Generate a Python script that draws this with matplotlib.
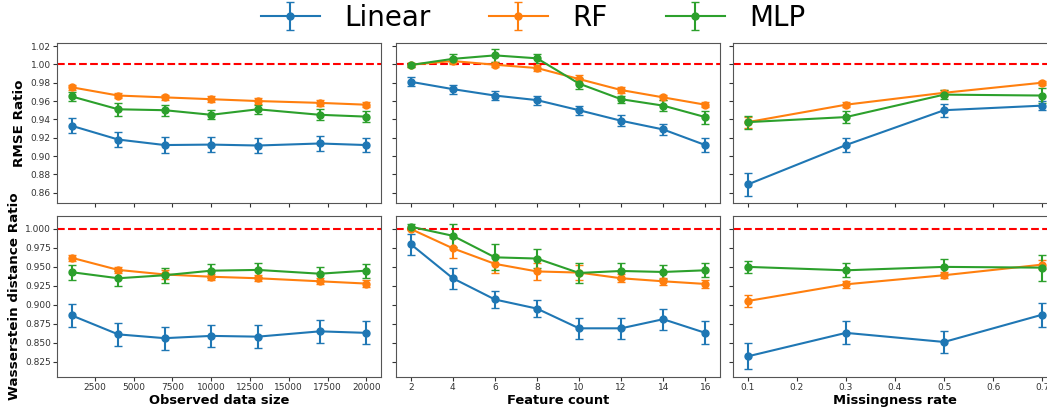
import numpy as np
import matplotlib
matplotlib.use("Agg")
import matplotlib.pyplot as plt

models = ["Linear", "RF", "MLP"]
colors = ["#1f77b4", "#ff7f0e", "#2ca02c"]

# observed data size
size_x = [1000, 4000, 7000, 10000, 13000, 17000, 20000]
size_rmse = {
    "Linear": [0.933, 0.918, 0.912, 0.9125, 0.9115, 0.9137, 0.912],
    "RF": [0.975, 0.966, 0.964, 0.962, 0.960, 0.958, 0.956],
    "MLP": [0.965, 0.951, 0.950, 0.945, 0.951, 0.945, 0.943],
}
size_rmse_err = {
    "Linear": [0.008, 0.008, 0.0085, 0.0085, 0.008, 0.008, 0.008],
    "RF": [0.003, 0.003, 0.003, 0.003, 0.003, 0.003, 0.003],
    "MLP": [0.005, 0.007, 0.006, 0.005, 0.005, 0.006, 0.006],
}
size_wd = {
    "Linear": [0.886, 0.861, 0.856, 0.859, 0.858, 0.865, 0.863],
    "RF": [0.962, 0.946, 0.940, 0.937, 0.935, 0.931, 0.928],
    "MLP": [0.943, 0.935, 0.939, 0.945, 0.946, 0.941, 0.945],
}
size_wd_err = {
    "Linear": [0.015, 0.015, 0.015, 0.015, 0.015, 0.015, 0.015],
    "RF": [0.004, 0.004, 0.006, 0.004, 0.004, 0.004, 0.005],
    "MLP": [0.01, 0.01, 0.01, 0.009, 0.009, 0.009, 0.009],
}

# feature count
feat_x = [2, 4, 6, 8, 10, 12, 14, 16]
feat_rmse = {
    "Linear": [0.981, 0.973, 0.966, 0.961, 0.950, 0.9385, 0.929, 0.912],
    "RF": [0.9996, 1.0036, 0.9996, 0.996, 0.984, 0.972, 0.964, 0.956],
    "MLP": [0.9993, 1.006, 1.0098, 1.0066, 0.979, 0.962, 0.955, 0.9425],
}
feat_rmse_err = {
    "Linear": [0.005, 0.005, 0.005, 0.005, 0.005, 0.006, 0.006, 0.008],
    "RF": [0.002, 0.003, 0.003, 0.003, 0.004, 0.003, 0.003, 0.003],
    "MLP": [0.002, 0.005, 0.007, 0.005, 0.006, 0.004, 0.006, 0.007],
}
feat_wd = {
    "Linear": [0.980, 0.935, 0.907, 0.895, 0.869, 0.869, 0.881, 0.863],
    "RF": [1.000, 0.9745, 0.954, 0.944, 0.9425, 0.935, 0.931, 0.9275],
    "MLP": [1.003, 0.991, 0.9626, 0.961, 0.942, 0.9446, 0.9433, 0.9455],
}
feat_wd_err = {
    "Linear": [0.014, 0.014, 0.011, 0.011, 0.014, 0.014, 0.014, 0.015],
    "RF": [0.002, 0.013, 0.012, 0.011, 0.01, 0.005, 0.005, 0.005],
    "MLP": [0.003, 0.015, 0.017, 0.013, 0.013, 0.01, 0.009, 0.009],
}

# missingness rate
miss_x = [0.1, 0.3, 0.5, 0.7]
miss_rmse = {
    "Linear": [0.869, 0.912, 0.950, 0.955],
    "RF": [0.937, 0.956, 0.969, 0.980],
    "MLP": [0.937, 0.9425, 0.967, 0.966],
}
miss_rmse_err = {
    "Linear": [0.0124, 0.008, 0.007, 0.005],
    "RF": [0.006, 0.003, 0.003, 0.002],
    "MLP": [0.007, 0.0065, 0.005, 0.008],
}
miss_wd = {
    "Linear": [0.832, 0.863, 0.851, 0.887],
    "RF": [0.905, 0.927, 0.939, 0.953],
    "MLP": [0.950, 0.9455, 0.950, 0.949],
}
miss_wd_err = {
    "Linear": [0.017, 0.015, 0.015, 0.016],
    "RF": [0.0077, 0.005, 0.004, 0.006],
    "MLP": [0.008, 0.009, 0.01, 0.017],
}

panels = [
    [(size_x, size_rmse, size_rmse_err), (feat_x, feat_rmse, feat_rmse_err), (miss_x, miss_rmse, miss_rmse_err)],
    [(size_x, size_wd, size_wd_err), (feat_x, feat_wd, feat_wd_err), (miss_x, miss_wd, miss_wd_err)],
]
xlabels = ["Observed data size", "Feature count", "Missingness rate"]
ylabels = ["RMSE Ratio", "Wasserstein distance Ratio"]

fig = plt.figure(figsize=(10.47, 4.08), dpi=100)
lefts = [57 / 1047, 396 / 1047, 733 / 1047]
w = 324 / 1047
rows = [(1 - 203 / 408, 160 / 408), (1 - 377 / 408, 161 / 408)]
ylims = [(0.8488, 1.0233), (0.8048, 1.0171)]

handles = []
for r in range(2):
    for c in range(3):
        ax = fig.add_axes([lefts[c], rows[r][0], w, rows[r][1]])
        xs, vals, errs = panels[r][c]
        for m, col in zip(models, colors):
            h = ax.errorbar(xs, vals[m], yerr=errs[m], fmt="o-", color=col,
                            ecolor=col, elinewidth=1.5, capsize=3, markersize=5,
                            linewidth=1.5, label=m)
            if r == 0 and c == 0:
                handles.append(h)
        ax.axhline(1.0, color="red", linestyle="--", linewidth=1.5)
        ax.set_ylim(*ylims[r])
        for s in ax.spines.values():
            s.set_color("#555555")
        ax.tick_params(labelsize=6.5, colors="#333333", length=3, pad=1.5)
        if r == 0:
            ax.set_yticks(np.arange(0.86, 1.021, 0.02))
            ax.tick_params(labelbottom=False)
        else:
            ax.set_yticks(np.arange(0.825, 1.001, 0.025))
            ax.set_xlabel(xlabels[c], fontsize=9.4, fontweight="bold", labelpad=1)
        if c == 1:
            ax.set_xticks(feat_x)
        if c == 2:
            ax.set_xticks(np.arange(0.1, 0.71, 0.1))
        if c == 0:
            ax.set_ylabel(ylabels[r], fontsize=9.7, fontweight="bold", labelpad=3)
        else:
            ax.tick_params(labelleft=False)

fig.legend(handles, models, loc="center", bbox_to_anchor=(0.5096, 0.956), ncol=3,
           frameon=False, fontsize=20, handlelength=2.1, handletextpad=0.9,
           columnspacing=2.1)

fig.savefig("out.png", dpi=100)
